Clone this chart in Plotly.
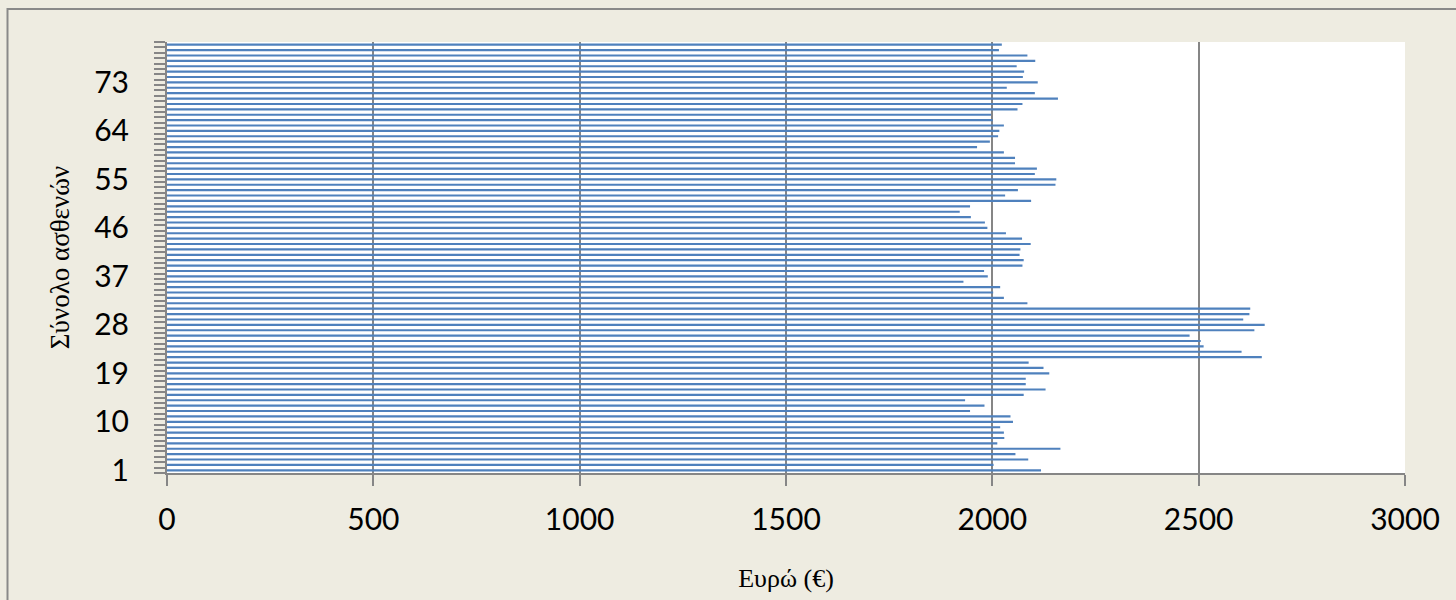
import plotly.graph_objects as go

# Patient index (1..80) and the cost per patient in euros
patients = list(range(1, 81))
cost_eur = [
    2118, 2003, 2087, 2056, 2165, 2012, 2029, 2028, 2019, 2050,
    2044, 1946, 1981, 1934, 2076, 2129, 2081, 2081, 2138, 2124,
    2088, 2653, 2604, 2512, 2505, 2478, 2635, 2660, 2608, 2623,
    2625, 2085, 2028, 2002, 2019, 1930, 1989, 1980, 2073, 2076,
    2066, 2068, 2093, 2072, 2033, 1988, 1982, 1948, 1921, 1946,
    2094, 2031, 2062, 2153, 2155, 2103, 2108, 2055, 2055, 2028,
    1963, 1994, 2014, 2017, 2028, 2001, 1997, 2061, 2073, 2159,
    2103, 2035, 2110, 2074, 2077, 2059, 2104, 2085, 2016, 2023,
]
y_tick_values = [1, 10, 19, 28, 37, 46, 55, 64, 73]
x_tick_values = [0, 500, 1000, 1500, 2000, 2500, 3000]

AXIS_GRAY = "#868686"
BAR_BLUE = "#4F81BD"
BEIGE = "#EEECE1"

W, H = 1456, 600
L, R, T, B = 167, 51, 42, 127
plot_w = W - L - R
plot_h = H - T - B

fig = go.Figure(
    go.Bar(
        x=cost_eur,
        y=patients,
        orientation="h",
        marker=dict(color=BAR_BLUE, line=dict(width=0)),
        hoverinfo="x+y",
    )
)

fig.update_layout(
    width=W,
    height=H,
    margin=dict(l=L, r=R, t=T, b=B, pad=0),
    paper_bgcolor=BEIGE,
    plot_bgcolor="white",
    bargap=0.6,
    showlegend=False,
    font=dict(family="Lato, Open Sans, sans-serif", color="black"),
)

fig.update_xaxes(
    range=[0, 3000],
    tickmode="array",
    tickvals=x_tick_values,
    ticktext=[str(v) for v in x_tick_values],
    tickfont=dict(size=30, family="Lato, sans-serif", color="black"),
    ticks="outside",
    ticklen=11,
    tickwidth=2,
    tickcolor=AXIS_GRAY,
    ticklabelstandoff=8,
    showgrid=True,
    gridcolor=AXIS_GRAY,
    gridwidth=2,
    showline=True,
    linecolor=AXIS_GRAY,
    linewidth=2,
    zeroline=False,
    title=dict(
        text="Ευρώ (€)",
        font=dict(family="Liberation Serif, Times New Roman, serif", size=26, color="black"),
        standoff=34,
    ),
)

fig.update_yaxes(
    range=[0.5, 80.5],
    tickmode="array",
    tickvals=y_tick_values,
    ticktext=[str(v) for v in y_tick_values],
    tickfont=dict(size=30, family="Lato, sans-serif", color="black"),
    ticks="",
    ticklabelstandoff=30,
    minor=dict(
        tickmode="linear",
        tick0=0.5,
        dtick=1,
        ticks="outside",
        ticklen=11,
        tickwidth=2,
        tickcolor=AXIS_GRAY,
        showgrid=False,
    ),
    showgrid=False,
    showline=True,
    linecolor=AXIS_GRAY,
    linewidth=2,
    zeroline=False,
    title=dict(
        text="Σύνολο ασθενών",
        font=dict(family="Liberation Serif, Times New Roman, serif", size=27, color="black"),
        standoff=17,
    ),
)

# Chart-area frame (left and top edges visible; the rest runs off the page)
fig.add_shape(
    type="rect",
    xref="paper",
    yref="paper",
    x0=(7.5 - L) / plot_w,
    x1=(W + 20 - L) / plot_w,
    y0=-(B + 20) / plot_h,
    y1=(H - B - 9) / plot_h,
    line=dict(color="#898989", width=2),
    fillcolor="rgba(0,0,0,0)",
    layer="below",
)

fig.write_html("out.html")
